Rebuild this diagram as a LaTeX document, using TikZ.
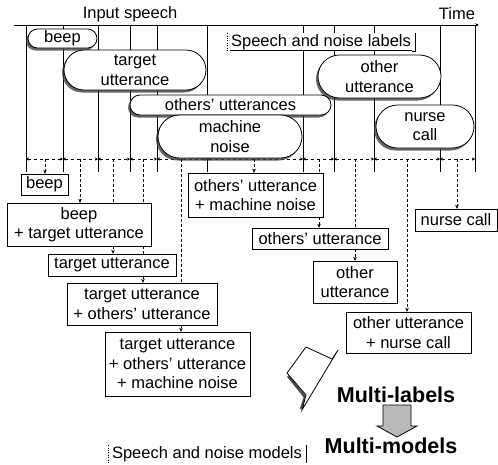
\documentclass[tikz,border=0pt]{standalone}
\usepackage{fontspec}
\setmainfont{Liberation Sans}
\usepackage{tikz}
\usetikzlibrary{positioning,calc,shapes.misc,shadows,arrows.meta}

\begin{document}
\begin{tikzpicture}[x=1pt,y=-1pt,
				font=\fontsize{16.5}{19.5}\selectfont,
				>={Stealth[length=4pt,width=3.5pt]},
				pill/.style={
					shape=rounded rectangle, draw, thick, fill=white, align=center,
					inner sep=1pt,
					drop shadow={shadow xshift=-2pt, shadow yshift=-2.5pt, opacity=0.8, fill=black!75},
				},
				box/.style={
					draw, thin, fill=white, align=center, inner sep=1pt,
				},
				tag/.style={fill=white, inner sep=1pt},
				link/.style={->, densely dashed, thin},
				dots/.style={densely dashed, thin},
				]
				\useasboundingbox (0,0) rectangle (498,464);
				
				% time axis
				\node (inp) at (130,14) {Input speech};
				\node (time) at (457,14) {Time};
				\draw[semithick, ->] (14,25) -- (479,25);
				\foreach \x in {26,63,98,130,157,207,303,334,374,440,475}
					\draw (\x,25) -- (\x,172);
				\foreach \a/\b in {26/63,63/98,98/130,130/157,157/207,207/303,303/334,334/374,374/440,440/475}
					\draw[dashed, <->, >={Stealth[length=3pt,width=3pt]}] (\a,159) -- (\b,159);
				
				\node[tag] (labels) at (321,42) {Speech and noise labels};
				\draw[thick] (labels.south west) -- (labels.south east);
				\draw[dotted] ([xshift=-3pt]labels.north west) -- ([xshift=-3pt]labels.south west);
				\draw ([xshift=3pt]labels.north east) -- ([xshift=3pt]labels.south east) -- (labels.south east);
				
				% speech and noise segments
				\node[pill, minimum width=71pt, minimum height=19pt] (pbeep) at (62.5,38.5) {beep};
				\node[pill, minimum width=144pt, minimum height=40pt] (ptarget) at (135,70) {target\\utterance};
				\node[pill, minimum width=125pt, minimum height=43pt] (pother) at (379.5,76.5) {other\\utterance};
				\node[pill, minimum width=203pt, minimum height=20pt] (pothers) at (230.5,105) {others' utterances};
				\node[pill, minimum width=146pt, minimum height=43pt] (pmachine) at (230,136.5) {machine\\noise};
				\node[pill, minimum width=100pt, minimum height=43pt] (pnurse) at (425,126.5) {nurse\\call};
				
				% multi-labels
				\node[box, minimum width=47pt, minimum height=21pt] (lbeep) at (44.5,184.5) {beep};
				\node[box, minimum width=144pt, minimum height=43pt] (lbt) at (79,224.5) {beep\\+ target utterance};
				\node[box, minimum width=128pt, minimum height=22pt] (lt) at (112,265) {target utterance};
				\node[box, minimum width=150pt, minimum height=42pt] (lto) at (142,304) {target utterance\\+ others' utterance};
				\node[box, minimum width=145pt, minimum height=64pt] (ltom) at (177.5,364) {target utterance\\+ others' utterance\\+ machine noise};
				\node[box, minimum width=135pt, minimum height=44pt] (lom) at (255.5,195) {others' utterance\\+ machine noise};
				\node[box, minimum width=136pt, minimum height=21pt] (lo) at (320,238.5) {others' utterance};
				\node[box, minimum width=84pt, minimum height=42pt] (lother) at (355,282) {other\\utterance};
				\node[box, minimum width=82pt, minimum height=22pt] (ln) at (456,220) {nurse call};
				\node[box, minimum width=125pt, minimum height=41pt] (lon) at (408.5,332.5) {other utterance\\+ nurse call};
				
				\coordinate (d1) at (45,159);
				\coordinate (d2) at (80,159);
				\coordinate (d3) at (113,159);
				\coordinate (d4) at (143,159);
				\coordinate (d5) at (181,159);
				\coordinate (d6) at (254,159);
				\coordinate (d7) at (319,159);
				\coordinate (d8) at (355,159);
				\coordinate (d9) at (407,159);
				\coordinate (d10) at (457,159);
				
				\draw[link] (d1) -- (d1 |- lbeep.north);
				\draw[link] (d2) -- (d2 |- lbt.north);
				\draw[dots] (d3) -- (d3 |- lbt.north);
				\draw[dots] (d4) -- (d4 |- lbt.north);
				\draw[link] (lbt.south -| d3) -- (lt.north -| d3);
				\draw[dots] (lbt.south -| d4) -- (lt.north -| d4);
				\draw[link] (lt.south -| d4) -- (lto.north -| d4);
				\draw[dots] (d5) -- (d5 |- lto.north);
				\draw[link] (lto.south -| d5) -- (ltom.north -| d5);
				\draw[link] (d6) -- (d6 |- lom.north);
				\draw[dots] (d7) -- (d7 |- lom.north);
				\draw[link] (lom.south -| d7) -- (lo.north -| d7);
				\draw[dots] (d8) -- (d8 |- lo.north);
				\draw[link] (lo.south -| d8) -- (lother.north -| d8);
				\draw[link] (d9) -- (d9 |- lon.north);
				\draw[link] (d10) -- (d10 |- ln.north);
				
				% hollow arrow
				\draw[line width=2.5pt, black!70] (288,376) -- (305,397) -- (301,409);
				\draw[thick, fill=white] (287,373) -- (306,347) -- (332,359) -- (338,350) -- (302,410) -- (306,395) -- cycle;
				
				\node[font=\fontsize{21.5}{25}\bfseries\selectfont] (ml) at (396,395) {Multi-labels};
				\node[font=\fontsize{21.5}{25}\bfseries\selectfont] (mm) at (391,446) {Multi-models};
				\draw[thick, fill=gray!55] (383,405) -- (411,405) -- (411,426) -- (417,426) -- (397,437) -- (377,426) -- (383,426) -- cycle;
				
				\node[tag] (models) at (207,454) {Speech and noise models};
				\draw[dotted] ([xshift=-3pt]models.north west) -- ([xshift=-3pt]models.south west);
				\draw ([xshift=3pt]models.north east) -- ([xshift=3pt]models.south east);
			\end{tikzpicture}
\end{document}
